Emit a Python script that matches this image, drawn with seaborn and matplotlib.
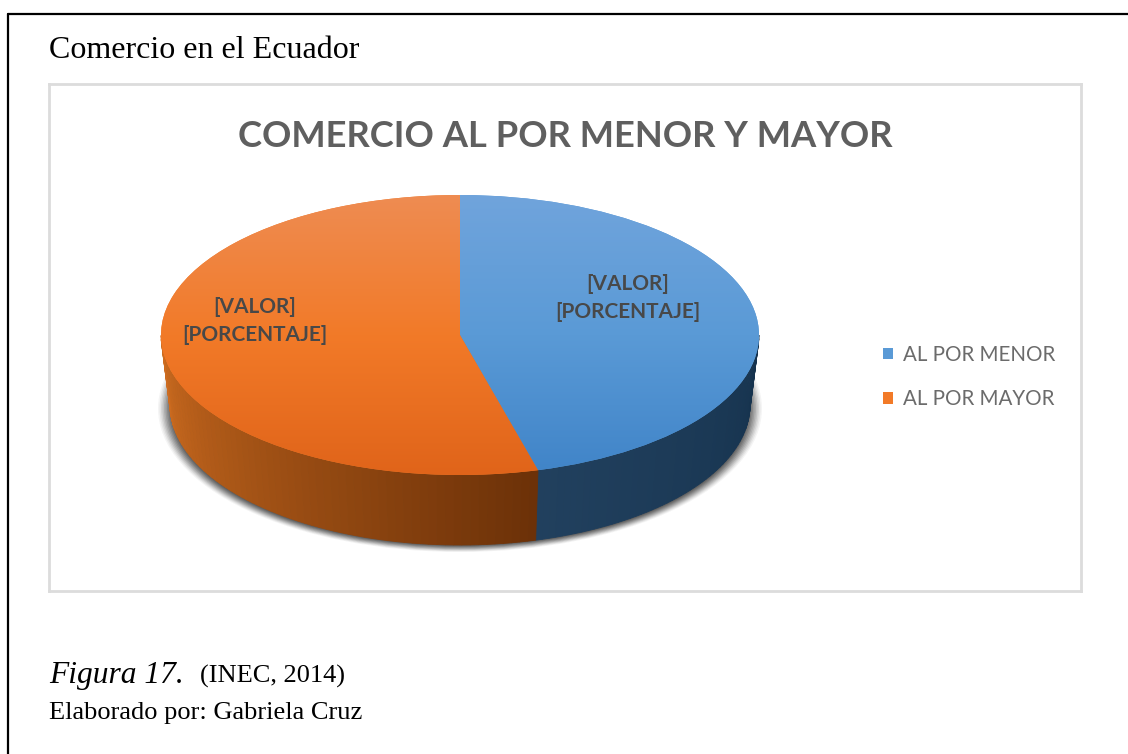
import numpy as np
import matplotlib
matplotlib.use("Agg")
import matplotlib.pyplot as plt
from matplotlib.colors import ListedColormap
from matplotlib.lines import Line2D
from matplotlib.patches import Ellipse
import seaborn as sns

# Data
categories = ["AL POR MENOR", "AL POR MAYOR"]
shares = [45.8, 54.2]
slice_labels = ["[VALOR]\n[PORCENTAJE]", "[VALOR]\n[PORCENTAJE]"]

# Colours
top_stops = [["#70a4dc", "#5a9ad6", "#4084c8"], ["#ee8c52", "#f27a28", "#e0641a"]]
wall_ends = [["#21405e", "#16334e"], ["#6c3108", "#cf6d20"]]
text_dark = "#484848"

sns.set_theme(style="white")

W, H = 1128, 754
fig = plt.figure(figsize=(W / 100, H / 100), dpi=100, facecolor="white")

# Chart box, data units are radii of the pie ellipse
cx, cy, rx, ry = 460, 335, 299, 140
ax = fig.add_axes([49 / W, 1 - 591 / H, 1032 / W, 507 / H])

depth = 0.5
taper = 0.97

# Shadow under the pie
for grow, alpha in zip(np.arange(1.01, 0.96, -0.005), np.arange(0.05, 0.25, 0.02)):
    ax.add_patch(Ellipse((0, -depth - 0.025), 2 * grow, 2.03 * grow, facecolor="#303030",
                         edgecolor="none", alpha=alpha, zorder=0.5))

# Side wall, front half only, cut in strips for the shading
edges = 90 - 360 * np.cumsum([0] + shares) / sum(shares)
for i in range(len(shares)):
    angles = np.linspace(edges[i], edges[i + 1], 120)
    angles = angles[np.sin(np.radians(angles)) <= 0.001]
    pal = sns.blend_palette(wall_ends[i], len(angles))
    if i == 0:
        angles = angles[::-1]
    for j in range(len(angles) - 1):
        a, b = np.radians(angles[j]), np.radians(angles[j + 1])
        xs = [np.cos(a), np.cos(b), taper * np.cos(b), taper * np.cos(a)]
        ys = [np.sin(a), np.sin(b), np.sin(b) - depth, np.sin(a) - depth]
        ax.fill(xs, ys, color=pal[j], lw=0.6, zorder=1)

wedges, _ = ax.pie(shares, colors=[top_stops[0][1], top_stops[1][1]], startangle=90, counterclock=False,
                   radius=1, wedgeprops={"zorder": 1.5, "lw": 0})

# Vertical gradient on the top face
ramp = np.linspace(0, 1, 256).reshape(-1, 1)
for i, w in enumerate(wedges):
    cmap = ListedColormap(sns.blend_palette(top_stops[i], 256))
    im = ax.imshow(ramp, cmap=cmap, extent=[-1, 1, -1, 1], origin="upper", aspect="auto", zorder=2)
    im.set_clip_path(w)

ax.set_aspect("auto")
ax.set_xlim((49 - cx) / rx, (1081 - cx) / rx)
ax.set_ylim((cy - 591) / ry, (cy - 84) / ry)
ax.set_frame_on(True)
for s in ax.spines.values():
    s.set_color("#dcdcdc")
    s.set_linewidth(2)

ax.text(0.5, 0.897, "COMERCIO AL POR MENOR Y MAYOR", transform=ax.transAxes, ha="center", va="center",
        family="Lato", weight="bold", fontsize=26.2, color="#5f5f5f")

ax.text(0.562, 0.262, slice_labels[0], ha="center", va="center", family="Lato", weight="bold",
        fontsize=15, color=text_dark, zorder=3, linespacing=1.5)
ax.text(-0.686, 0.097, slice_labels[1], ha="center", va="center", family="Lato", weight="bold",
        fontsize=15, color=text_dark, zorder=3, linespacing=1.5)

ax.legend(wedges, categories, loc="center left", bbox_to_anchor=((883 - 49) / 1032, (591 - 377) / 507),
          frameon=False, prop={"family": "Lato", "size": 14.8}, labelcolor="#6b6b6b",
          handlelength=0.5, handleheight=0.5, handletextpad=0.45, labelspacing=1.2, borderpad=0, borderaxespad=0)

# Page text around the chart
fig.text(49 / W, 1 - 51 / H, "Comercio en el Ecuador", family="Liberation Serif", fontsize=23,
         color="black", ha="left", va="center")
fig.text(49 / W, 1 - 676 / H, "Figura 17.", family="Liberation Serif", style="italic", fontsize=22.7,
         color="black", ha="left", va="center")
fig.text(200 / W, 1 - 676 / H, "(INEC, 2014)", family="Liberation Serif", fontsize=19,
         color="black", ha="left", va="center")
fig.text(49 / W, 1 - 713 / H, "Elaborado por: Gabriela Cruz", family="Liberation Serif", fontsize=19,
         color="black", ha="left", va="center")

# Page border, top and left sides
fig.add_artist(Line2D([8 / W, 1], [1 - 14 / H, 1 - 14 / H], color="black", lw=1.6))
fig.add_artist(Line2D([8 / W, 8 / W], [1 - 14 / H, 0], color="black", lw=1.6))

fig.savefig("out.png", dpi=100, facecolor="white")
